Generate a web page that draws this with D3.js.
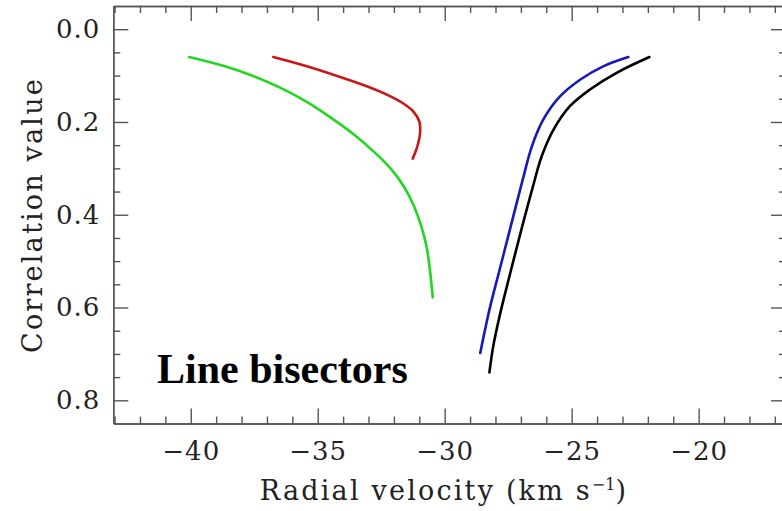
<!DOCTYPE html>
<html>
<head>
<meta charset="utf-8">
<script src="https://cdn.jsdelivr.net/npm/d3@7"></script>
<style>
  html, body { margin: 0; padding: 0; background: #fff; }
  svg { display: block; }
</style>
</head>
<body>
<svg id="chart" width="782" height="511"></svg>
<script>
// ---- data (velocity km/s, correlation value) ----
const greenV = [-40.06, -38.72, -37.54, -36.48, -35.45, -34.50, -33.55, -32.75, -32.10, -31.62, -31.22, -30.92, -30.71, -30.58, -30.47];
const greenC = [0.060, 0.079, 0.101, 0.126, 0.156, 0.190, 0.228, 0.266, 0.302, 0.338, 0.380, 0.425, 0.470, 0.520, 0.578];

const redV = [-36.75, -35.43, -34.12, -33.07, -32.28, -31.69, -31.24, -31.00, -30.97, -31.08, -31.26];
const redC = [0.060, 0.080, 0.103, 0.123, 0.141, 0.158, 0.177, 0.199, 0.224, 0.253, 0.279];

const blueV = [-22.77, -23.76, -24.67, -25.46, -26.12, -26.57, -26.93, -27.40, -27.84, -28.24, -28.60];
const blueC = [0.060, 0.080, 0.109, 0.145, 0.195, 0.253, 0.325, 0.425, 0.519, 0.605, 0.698];

const blackV = [-21.94, -23.23, -24.28, -25.07, -25.72, -26.18, -26.54, -26.98, -27.42, -27.84, -28.09, -28.24];
const blackC = [0.060, 0.094, 0.130, 0.166, 0.217, 0.274, 0.342, 0.432, 0.526, 0.619, 0.684, 0.740];

const xMajorTicks = [-40, -35, -30, -25, -20];
const yMajorTicks = [0.0, 0.2, 0.4, 0.6, 0.8];
const xLabel = "Radial velocity (km s";
const xLabelSup = "\u22121";
const yLabel = "Correlation value";
const annotation = "Line bisectors";

// ---- layout ----
const mLeft = 113.3, mRight = 786, mTop = 6, mBottom = 423.5;
const x = d3.scaleLinear().domain([-43.05, -16.56]).range([mLeft, mRight]);
const y = d3.scaleLinear().domain([-0.05, 0.85]).range([mTop, mBottom]);

const svg = d3.select("#chart");
const axisColor = "#555";
const fontFam = "'DejaVu Serif', serif";
const fs = 26;

const xMinor = d3.range(-43, -16).filter(v => v % 5 !== 0);
const yMinor = d3.range(1, 17).map(i => +(i * 0.05).toFixed(2)).filter(v => Math.round(v * 100) % 20 !== 0);

function styleAxis(g) {
  g.selectAll("path.domain").attr("stroke", axisColor).attr("stroke-width", 1.4);
  g.selectAll(".tick line").attr("stroke", axisColor).attr("stroke-width", 1.4);
  g.selectAll(".tick text").attr("font-family", fontFam).attr("font-size", fs)
    .attr("letter-spacing", 1).attr("fill", "#222");
}

// bottom axis
const gB = svg.append("g").attr("transform", `translate(0,${mBottom})`)
  .call(d3.axisBottom(x).tickValues(xMajorTicks).tickSizeInner(-15).tickSizeOuter(0).tickPadding(18)
    .tickFormat(d => d3.format("d")(d).replace("-", "\u2212")));
styleAxis(gB);
const gBm = svg.append("g").attr("transform", `translate(0,${mBottom})`)
  .call(d3.axisBottom(x).tickValues(xMinor).tickSizeInner(-7).tickSizeOuter(0).tickFormat(""));
styleAxis(gBm);

// top axis
const gT = svg.append("g").attr("transform", `translate(0,${mTop})`)
  .call(d3.axisTop(x).tickValues(xMajorTicks).tickSizeInner(-15).tickSizeOuter(0).tickFormat(""));
styleAxis(gT);
const gTm = svg.append("g").attr("transform", `translate(0,${mTop})`)
  .call(d3.axisTop(x).tickValues(xMinor).tickSizeInner(-7).tickSizeOuter(0).tickFormat(""));
styleAxis(gTm);

// left axis
const gL = svg.append("g").attr("transform", `translate(${mLeft},0)`)
  .call(d3.axisLeft(y).tickValues(yMajorTicks).tickSizeInner(-15).tickSizeOuter(0).tickPadding(13)
    .tickFormat(d3.format(".1f")));
styleAxis(gL);
const gLm = svg.append("g").attr("transform", `translate(${mLeft},0)`)
  .call(d3.axisLeft(y).tickValues(yMinor).tickSizeInner(-7).tickSizeOuter(0).tickFormat(""));
styleAxis(gLm);

// right axis
const gR = svg.append("g").attr("transform", `translate(${mRight},0)`)
  .call(d3.axisRight(y).tickValues(yMajorTicks).tickSizeInner(-15).tickSizeOuter(0).tickFormat(""));
styleAxis(gR);
const gRm = svg.append("g").attr("transform", `translate(${mRight},0)`)
  .call(d3.axisRight(y).tickValues(yMinor).tickSizeInner(-7).tickSizeOuter(0).tickFormat(""));
styleAxis(gRm);

// curves
const series = [
  { v: greenV, c: greenC, color: "#22d622" },
  { v: redV, c: redC, color: "#cc1515" },
  { v: blueV, c: blueC, color: "#1818b8" },
  { v: blackV, c: blackC, color: "#000000" }
];
const line = d3.line().x(d => x(d[0])).y(d => y(d[1])).curve(d3.curveCatmullRom.alpha(0.5));
series.forEach(s => {
  const pts = s.v.map((v, i) => [v, s.c[i]]);
  svg.append("path").attr("d", line(pts)).attr("fill", "none")
    .attr("stroke", s.color).attr("stroke-width", 2.6).attr("stroke-linecap", "round").attr("stroke-linejoin", "round");
});

// axis titles
const xt = svg.append("text").attr("x", 444).attr("y", 500).attr("text-anchor", "middle")
  .attr("font-family", fontFam).attr("font-size", 27).attr("letter-spacing", 2.2).attr("fill", "#222");
xt.append("tspan").text(xLabel);
xt.append("tspan").attr("dy", -10).attr("font-size", 16).attr("letter-spacing", 0).text(xLabelSup);
xt.append("tspan").attr("dy", 10).text(")");

svg.append("text").attr("transform", "translate(42,215) rotate(-90)").attr("text-anchor", "middle")
  .attr("font-family", fontFam).attr("font-size", 27).attr("letter-spacing", 2.2).attr("fill", "#222").text(yLabel);

// annotation
svg.append("text").attr("x", 157).attr("y", 383)
  .attr("font-family", "'Liberation Serif', 'Times New Roman', serif").attr("font-weight", "bold")
  .attr("font-size", 42).attr("fill", "#000").text(annotation);
</script>
</body>
</html>
